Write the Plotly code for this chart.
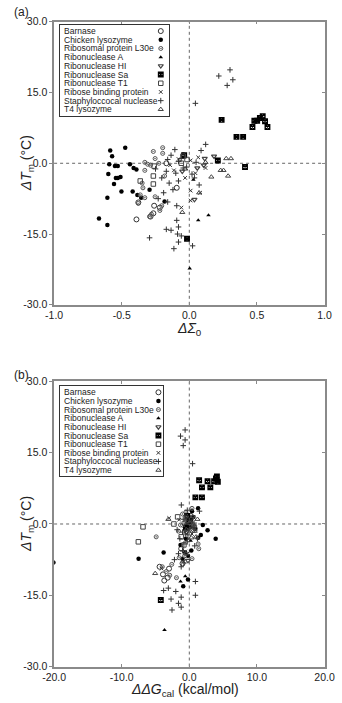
import plotly.graph_objects as go

# ---------------- data ----------------
NAMES = ["Barnase", "Chicken lysozyme", "Ribosomal protein L30e", "Ribonuclease A",
         "Ribonuclease HI", "Ribonuclease Sa", "Ribonuclease T1", "Ribose binding protein",
         "Staphyloccocal nuclease", "T4 lysozyme"]

X_TICKS_A = [-1.0, -0.5, 0.0, 0.5, 1.0]
X_TICKTEXT_A = ["-1.0", "-0.5", "0.0", "0.5", "1.0"]
X_TICKS_B = [-20, -10, 0, 10, 20]
X_TICKTEXT_B = ["-20.0", "-10.0", "0.0", "10.0", "20.0"]
Y_TICKS = [-30, -15, 0, 15, 30]
Y_TICKTEXT = ["-30.0", "-15.0", "0.0", "15.0", "30.0"]

BARNASE_DTM = [-11.9, -11.3, -10.6, -9.0, -9.4, -8.3, 1.7, 0.0, -5.2]
BARNASE_DSIGMA = [-0.391, -0.287, -0.266, -0.260, -0.218, -0.377, -0.045, -0.170, -0.093]
BARNASE_DDG = [-3.7, -3.2, -3.9, -4.4, -3.0, -1.0, 0.2, -0.3, -1.2]

CHICKEN_DTM = [2.7, 1.5, 3.3, -0.2, -0.6, -0.6, -0.2, -1.0, -1.3, -2.3, -3.1, -3.1, -2.9,
               -4.4, -6.0, -6.0, -6.7, -7.3, -7.3, -11.7, -13.1, -5.6, -8.1]
CHICKEN_DSIGMA = [-0.585, -0.571, -0.474, -0.592, -0.550, -0.529, -0.439, -0.412, -0.391,
                  -0.599, -0.543, -0.529, -0.509, -0.557, -0.502, -0.419, -0.384, -0.356,
                  -0.606, -0.668, -0.606, -0.294, -0.183]
CHICKEN_DDG = [0.4, 0.6, 1.3, 2.0, 0.2, -0.3, -0.4, 0.9, 2.7, 1.7, -0.5, 3.9, 1.3,
               -1.3, -0.6, -3.8, -0.2, -1.0, -7.5, -0.2, -0.9, 0.3, -20.1]

L30E_DTM = [2.5, 3.3, 2.1, 1.0, 0.2, -0.2, -0.4, 0.0, -1.5, -2.7, -4.2, -5.2, -6.7, -8.5,
            -7.3, -7.1, -10.0, -9.0, -10.8, -11.3]
L30E_DSIGMA = [-0.266, -0.197, -0.197, -0.253, -0.329, -0.308, -0.287, -0.225, -0.329,
               -0.183, -0.349, -0.343, -0.363, -0.377, -0.329, -0.253, -0.218, -0.204,
               -0.280, -0.294]
L30E_DDG = [-0.5, 0.4, -1.0, 0.2, -0.8, -1.3, 0.8, -0.2, -1.6, -4.9, 1.3, 1.4, -0.7, -2.6,
            0.4, -1.5, -3.4, -4.0, -2.9, -1.9]

RNASEA_DTM = [-11.0, -12.1, -22.3, -3.5]
RNASEA_DSIGMA = [0.142, 0.066, 0.003, 0.03]
RNASEA_DDG = [-0.6, -1.3, -3.67, 0.2]

RNASEHI_DTM = [1.5, 1.0, -0.4, -1.0, -1.7, -7.7]
RNASEHI_DSIGMA = [0.183, 0.114, 0.107, 0.059, -0.052, 0.038]
RNASEHI_DDG = [0.5, 0.3, 0.6, -0.1, -0.4, -0.2]

RNASESA_DTM = [9.2, 9.0, 9.0, 9.6, 10.0, 7.7, 7.7, 5.6, 5.6, 0.6, -0.8, 1.7, -16.0, 8.9]
RNASESA_DSIGMA = [0.239, 0.481, 0.502, 0.522, 0.543, 0.467, 0.578, 0.349, 0.398, 0.211,
                  0.412, -0.038, -0.017, 0.560]
RNASESA_DDG = [1.45, 2.70, 3.67, 3.94, 4.08, 1.87, 3.11, 0.90, 1.87, 0.07, -0.5, -0.3,
               -4.22, 4.22]

RNASET1_DTM = [-0.6, -2.7, -4.4, -3.75, 1.5, 0.0, 0.8]
RNASET1_DSIGMA = [-0.260, -0.266, -0.266, -0.363, -0.045, -0.059, -0.017]
RNASET1_DDG = [-6.85, -1.2, -0.8, -7.54, -1.73, -2.28, -0.3]

RBP_DTM = [-9.4, -5.8, -7.9, -6.25, 1.25, 0.6, -0.4, -1.5, -2.1, -3.1, 0.9, -1.0]
RBP_DSIGMA = [-0.059, 0.010, 0.010, 0.080, 0.066, 0.010, -0.142, -0.114, 0.045, -0.031,
              -0.080, 0.12]
RBP_DDG = [-4.1, -0.6, -0.9, -0.3, -2.97, 0.2, -0.8, -0.5, 0.4, -0.2, -1.5, 0.9]

SNASE_DTM = [18.5, 19.8, 17.7, 16.5, 12.7, 4.0, 2.7, 2.9,
             1.7, 0.4, -1.7, -2.1, -1.0, -3.1, -4.2, -3.75, -3.1, -4.6, -6.25, -5.6, -0.8,
             -2.3, 1.0, 0.2, -1.2, 0.8,
             -9.0, -12.1, -13.5, -14.0, -14.2, -15.0, -15.8, -15.4, -16.7, -18.1, -17.5,
             -7.5, -8.2]
SNASE_DSIGMA = [0.218, 0.301, 0.322, 0.280, 0.045, 0.121, 0.087, -0.107,
                -0.135, -0.080, -0.170, -0.100, -0.045, -0.204, -0.149, -0.080, 0.038,
                0.073, -0.190, -0.121, -0.020, 0.020, -0.060, 0.050, -0.250, -0.160,
                -0.093, -0.093, -0.080, -0.170, -0.135, -0.087, -0.294, -0.059, -0.080,
                -0.114, 0.024, -0.230, -0.160]
SNASE_DDG = [-1.3, -0.62, -0.62, -0.9, 0.48, -1.18, 1.5, -0.3,
             -0.5, 0.3, -1.0, -0.6, 0.1, -1.4, -0.8, -0.3, 1.2, 0.8, -1.6, -1.0, 0.6,
             -0.2, -0.9, 0.7, -1.8, -0.4,
             -1.2, 0.9, -3.1, -3.8, -2.0, 0.9, -2.7, -1.2, -1.6, -2.56, -1.2, -2.2, -0.8]

T4_DTM = [1.0, 1.0, -1.5, -1.5, -2.7, -2.9, -6.25, -10.4, 0.2, -1.2]
T4_DSIGMA = [0.273, 0.308, 0.232, 0.253, 0.287, 0.163, 0.073, -0.052, 0.12, -0.03]
T4_DDG = [-3.1, 1.2, 0.8, 0.5, 1.0, 0.3, -0.5, -5.05, 0.1, -0.4]

SERIES = [
    (BARNASE_DSIGMA, BARNASE_DDG, BARNASE_DTM),
    (CHICKEN_DSIGMA, CHICKEN_DDG, CHICKEN_DTM),
    (L30E_DSIGMA, L30E_DDG, L30E_DTM),
    (RNASEA_DSIGMA, RNASEA_DDG, RNASEA_DTM),
    (RNASEHI_DSIGMA, RNASEHI_DDG, RNASEHI_DTM),
    (RNASESA_DSIGMA, RNASESA_DDG, RNASESA_DTM),
    (RNASET1_DSIGMA, RNASET1_DDG, RNASET1_DTM),
    (RBP_DSIGMA, RBP_DDG, RBP_DTM),
    (SNASE_DSIGMA, SNASE_DDG, SNASE_DTM),
    (T4_DSIGMA, T4_DDG, T4_DTM),
]

# ---------------- styles ----------------
STYLES = [
    dict(symbol="circle-open", size=5, color="#333", line=dict(width=1, color="#333")),
    dict(symbol="circle", size=4.5, color="#000", line=dict(width=0)),
    dict(symbol="circle-open-dot", size=4, color="#555", line=dict(width=1, color="#555")),
    dict(symbol="triangle-up", size=4, color="#000", line=dict(width=0)),
    dict(symbol="triangle-down-open", size=4.5, color="#444", line=dict(width=1.2, color="#444")),
    dict(symbol="square-x-open", size=4.5, color="#000", line=dict(width=1.4, color="#000")),
    dict(symbol="square-open", size=4.5, color="#444", line=dict(width=1, color="#444")),
    dict(symbol="x-thin-open", size=3.6, color="#333", line=dict(width=1, color="#333")),
    dict(symbol="cross-thin-open", size=4, color="#333", line=dict(width=1, color="#333")),
    dict(symbol="triangle-up-open", size=4.5, color="#444", line=dict(width=1, color="#444")),
]

W, H = 342, 703
FONT = "Arial, Liberation Sans, sans-serif"
AXC = "#8a8a8a"


def dx(a, b):
    return [a / W, b / W]


def dy(top, bottom):
    return [1 - bottom / H, 1 - top / H]


fig = go.Figure()

for (xs_a, xs_b, ys), st in zip(SERIES, STYLES):
    fig.add_trace(go.Scatter(x=xs_a, y=ys, mode="markers", marker=st, xaxis="x", yaxis="y",
                             showlegend=False, hoverinfo="skip"))
    fig.add_trace(go.Scatter(x=xs_b, y=ys, mode="markers", marker=st, xaxis="x2", yaxis="y2",
                             showlegend=False, hoverinfo="skip"))

# custom legends (symbols on the right of the text)
LEG = [
    # xaxis, yaxis, box px (left, top, right, bottom), symbol x offset, row0, row step
    ("x3", "y3", (51, 19, 168, 112), 108, 6.5, 8.85),
    ("x4", "y4", (51, 387, 161, 478), 105.5, 6.0, 8.8),
]
annotations = []
for xa, ya, (l, t, r, b), symx, r0, step in LEG:
    n = len(NAMES)
    rows = [r0 + step * i for i in range(n)]
    for i, (name, st) in enumerate(zip(NAMES, STYLES)):
        fig.add_trace(go.Scatter(x=[symx], y=[rows[i]], mode="markers", marker=st,
                                 xaxis=xa, yaxis=ya, showlegend=False, hoverinfo="skip"))
        annotations.append(dict(text=name, x=2.5, y=rows[i], xref=xa, yref=ya,
                                xanchor="left", yanchor="middle", showarrow=False,
                                font=dict(family=FONT, size=8.5, color="#222")))

# empty traces to host right-side tick axes
fig.add_trace(go.Scatter(x=[None], y=[None], xaxis="x", yaxis="y5", showlegend=False))
fig.add_trace(go.Scatter(x=[None], y=[None], xaxis="x2", yaxis="y6", showlegend=False))

tickfont = dict(family=FONT, size=10.5, color="#222")
common_x = dict(showgrid=False, zeroline=False, showline=True, linecolor=AXC, linewidth=1.5,
                mirror="ticks", ticks="inside", ticklen=3, tickcolor=AXC, tickwidth=1,
                tickfont=tickfont)
common_y = dict(showgrid=False, zeroline=False, showline=True, linecolor=AXC, linewidth=1.5,
                mirror=True, ticks="outside", ticklen=3, tickcolor=AXC, tickwidth=1,
                tickfont=tickfont, range=[-30, 30], tickvals=Y_TICKS, ticktext=Y_TICKTEXT)
right_y = dict(showgrid=False, zeroline=False, showline=False, side="right", ticks="inside",
               ticklen=3, tickcolor=AXC, showticklabels=False, range=[-30, 30],
               tickvals=Y_TICKS)


def leg_axes(l, t, r, b):
    ax_x = dict(domain=dx(l, r), range=[0, r - l], showgrid=False, zeroline=False,
                showline=True, mirror=True, linecolor="#333", linewidth=1, ticks="",
                showticklabels=False, fixedrange=True)
    ax_y = dict(domain=dy(t, b), range=[b - t, 0], showgrid=False, zeroline=False,
                showline=True, mirror=True, linecolor="#333", linewidth=1, ticks="",
                showticklabels=False, fixedrange=True)
    return ax_x, ax_y


lx3, ly3 = leg_axes(*LEG[0][2])
lx4, ly4 = leg_axes(*LEG[1][2])

fig.update_layout(
    width=W, height=H, margin=dict(l=0, r=0, t=0, b=0),
    paper_bgcolor="white", plot_bgcolor="white",
    xaxis=dict(domain=dx(45, 334), anchor="y", range=[-1, 1], tickvals=X_TICKS_A,
               ticktext=X_TICKTEXT_A, **common_x),
    yaxis=dict(domain=dy(16, 304), anchor="x", **common_y),
    xaxis2=dict(domain=dx(45, 334), anchor="y2", range=[-20, 20], tickvals=X_TICKS_B,
                ticktext=X_TICKTEXT_B, **common_x),
    yaxis2=dict(domain=dy(382, 672), anchor="x2", **common_y),
    yaxis5=dict(overlaying="y", anchor="x", **right_y),
    yaxis6=dict(overlaying="y2", anchor="x2", **right_y),
    xaxis3=dict(anchor="y3", **lx3),
    yaxis3=dict(anchor="x3", **ly3),
    xaxis4=dict(anchor="y4", **lx4),
    yaxis4=dict(anchor="x4", **ly4),
    showlegend=False,
)

# dotted zero lines
shapes = []
for xr, yr in (("x", "y"), ("x2", "y2")):
    shapes.append(dict(type="line", xref=xr + " domain", x0=0, x1=1, yref=yr, y0=0, y1=0,
                       line=dict(color="#666", width=1, dash="dot"), layer="below"))
    shapes.append(dict(type="line", xref=xr, x0=0, x1=0, yref=yr + " domain", y0=0, y1=1,
                       line=dict(color="#666", width=1, dash="dot"), layer="below"))
fig.update_layout(shapes=shapes)

title_font = dict(family=FONT, size=14, color="#222")
annotations += [
    dict(text="(a)", x=0 / W, y=1 - 6 / H, xref="paper", yref="paper", xanchor="left",
         yanchor="middle", showarrow=False, font=dict(family=FONT, size=12, color="#222")),
    dict(text="(b)", x=0 / W, y=1 - 375 / H, xref="paper", yref="paper", xanchor="left",
         yanchor="middle", showarrow=False, font=dict(family=FONT, size=12, color="#222")),
    dict(text="<i>ΔT</i><sub>m</sub> (°C)", textangle=-90, x=16 / W, y=1 - 160 / H,
         xref="paper", yref="paper", xanchor="center", yanchor="middle", showarrow=False,
         font=title_font),
    dict(text="<i>ΔT</i><sub>m</sub> (°C)", textangle=-90, x=16 / W, y=1 - 527 / H,
         xref="paper", yref="paper", xanchor="center", yanchor="middle", showarrow=False,
         font=title_font),
    dict(text="<i>ΔΣ</i><sub>0</sub>", x=190 / W, y=1 - 329 / H, xref="paper", yref="paper",
         xanchor="center", yanchor="middle", showarrow=False, font=title_font),
    dict(text="<i>ΔΔG</i><sub>cal</sub> (kcal/mol)", x=185 / W, y=1 - 696 / H, xref="paper",
         yref="paper", xanchor="center", yanchor="middle", showarrow=False, font=title_font),
]
fig.update_layout(annotations=annotations)

fig.write_html("out.html")
